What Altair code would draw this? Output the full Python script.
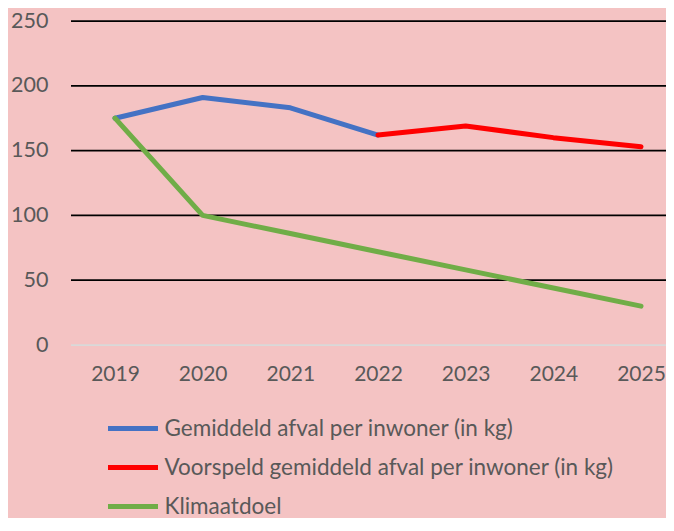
import altair as alt
import pandas as pd

years = ["2019", "2020", "2021", "2022", "2023", "2024", "2025"]
series_names = [
    "Gemiddeld afval per inwoner (in kg)",
    "Voorspeld gemiddeld afval per inwoner (in kg)",
    "Klimaatdoel",
]
gemiddeld = [175, 191, 183, 162, None, None, None]
voorspeld = [None, None, None, 162, 169, 160, 153]
klimaatdoel = [175, 100, 86, 72, 58, 44, 30]
colors = ["#4472C4", "#FF0000", "#70AD47"]
y_ticks = [0, 50, 100, 150, 200, 250]

rows = []
for name, vals in zip(series_names, [gemiddeld, voorspeld, klimaatdoel]):
    for yr, v in zip(years, vals):
        if v is not None:
            rows.append({"jaar": yr, "waarde": v, "reeks": name})
df = pd.DataFrame(rows)
grid_df = pd.DataFrame({"waarde": y_ticks})

FONT = "Lato"
TXT = "#595959"

y_scale = alt.Scale(domain=[0, 250], nice=False)
y_axis = alt.Axis(
    title=None,
    values=y_ticks,
    domain=False,
    ticks=False,
    grid=False,
    labelFont=FONT,
    labelFontSize=21.5,
    labelColor=TXT,
    labelPadding=23,
)

grid = (
    alt.Chart(grid_df)
    .mark_rule(strokeWidth=1.75)
    .encode(
        y=alt.Y("waarde:Q", scale=y_scale, axis=y_axis),
        color=alt.condition("datum.waarde == 0", alt.value("#D9D9D9"), alt.value("#000000")),
    )
)

lines = (
    alt.Chart(df)
    .mark_line(strokeWidth=5, strokeCap="round", strokeJoin="round")
    .encode(
        x=alt.X(
            "jaar:N",
            sort=years,
            scale=alt.Scale(type="point", range=[44, 570], padding=0),
            axis=alt.Axis(
                title=None,
                labelAngle=0,
                domain=False,
                ticks=False,
                grid=False,
                labelFont=FONT,
                labelFontSize=21,
                labelColor=TXT,
                labelPadding=18,
            ),
        ),
        y=alt.Y("waarde:Q", scale=y_scale, axis=y_axis),
        color=alt.Color(
            "reeks:N",
            scale=alt.Scale(domain=series_names, range=colors),
            sort=series_names,
            legend=alt.Legend(
                title=None,
                orient="none",
                legendX=34.5,
                legendY=380,
                direction="vertical",
                symbolType="stroke",
                symbolSize=2500,
                symbolStrokeWidth=5,
                labelFont=FONT,
                labelFontSize=22.5,
                labelColor=TXT,
                labelOffset=4,
                rowPadding=0,
                padding=0,
                labelLimit=600,
            ),
        ),
        detail="reeks:N",
    )
)

chart = (
    alt.layer(grid, lines)
    .properties(
        width=595,
        height=324,
        background="#F4C3C3",
        padding={"left": 63, "top": 13, "right": 0, "bottom": 173},
        autosize=alt.AutoSizeParams(type="none"),
    )
    .configure_view(stroke=None)
)

chart.save("out.html", embed_options={"renderer": "svg", "actions": False})
